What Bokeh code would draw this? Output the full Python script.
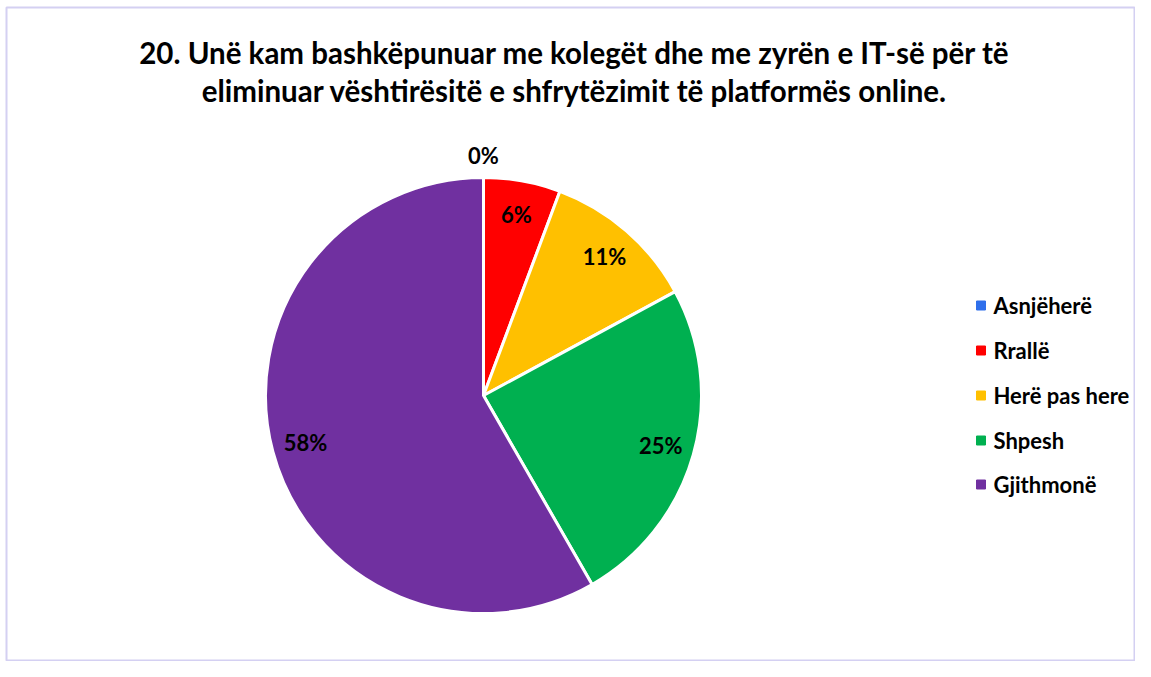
import math
from bokeh.plotting import figure
from bokeh.models import Range1d, ColumnDataSource
from bokeh.core.properties import value
from bokeh.embed import file_html
from bokeh.resources import INLINE

# ---- data ----
categories = ["Asnjëherë", "Rrallë", "Herë pas here", "Shpesh", "Gjithmonë"]
percents = [0.0, 5.7, 11.4, 24.6, 58.3]
colors = ["#2F6FEB", "#FF0000", "#FFC000", "#00B050", "#7030A0"]
title_lines = [
    "20. Unë kam bashkëpunuar me kolegët dhe me zyrën e IT-së për të",
    "eliminuar vështirësitë e shfrytëzimit të platformës online.",
]

W, H = 1135, 661
BL, BT = 6, 7
FW, FH = W - BL, H - BT
FONT = "Lato"

p = figure(width=W, height=H, x_range=Range1d(0, FW), y_range=Range1d(0, FH),
           x_axis_type=None, y_axis_type=None, output_backend="svg",
           toolbar_location=None, min_border=0,
           min_border_left=BL, min_border_top=BT)
p.grid.visible = False
p.background_fill_color = "white"
p.border_fill_color = "white"
p.outline_line_color = "#D4D0F2"
p.outline_line_width = 2

# pie geometry (data units == pixels)
cx, cy, R = 477, 266, 218
total = sum(percents)
starts, ends, lx, ly, labels = [], [], [], [], []
cum = 0.0
for v in percents:
    a0 = math.pi / 2 - cum / total * 2 * math.pi
    cum += v
    a1 = math.pi / 2 - cum / total * 2 * math.pi
    starts.append(a0)
    ends.append(a1)
    mid = (a0 + a1) / 2
    r = R * 0.845 if v > 0 else R + 22
    lx.append(cx + r * math.cos(mid))
    ly.append(cy + r * math.sin(mid))
    labels.append(f"{round(v):.0f}%")

nz = [i for i, v in enumerate(percents) if v > 0]
wsrc = ColumnDataSource(dict(
    start=[starts[i] for i in nz], end=[ends[i] for i in nz],
    color=[colors[i] for i in nz]))
p.wedge(x=cx, y=cy, radius=R, start_angle="start", end_angle="end",
        direction="clock", fill_color="color", line_color="white",
        line_width=3, source=wsrc)

p.text(x=lx, y=ly, text=labels, text_align="center", text_baseline="middle",
       text_font=value(FONT), text_font_style="bold", text_font_size="22px",
       text_color="black")

# title
tx = 568
p.text(x=[tx, tx], y=[609, 571], text=title_lines, text_align="center",
       text_baseline="middle", text_font=value(FONT), text_font_style="bold",
       text_font_size="29.5px", text_color="black")

# legend
leg_x = 974.5
leg_y = [661 - y for y in (305, 350, 395, 440, 484)]
p.scatter(x=[leg_x] * len(categories), y=leg_y, marker="square", size=9,
          fill_color=colors, line_color=colors)
p.text(x=[leg_x + 12.5] * len(categories), y=leg_y, text=categories,
       text_align="left", text_baseline="middle", text_font=value(FONT),
       text_font_style="bold", text_font_size="22px", text_color="black")

open("out.html", "w").write(file_html(p, INLINE))
